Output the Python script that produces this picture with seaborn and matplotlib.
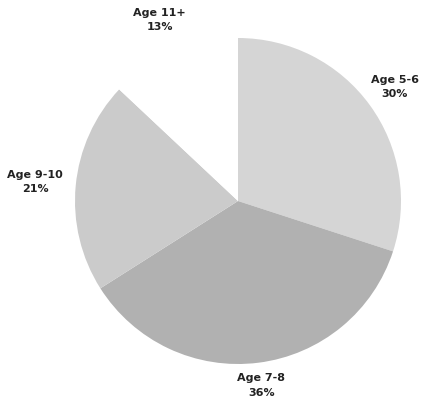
import numpy as np
import matplotlib
matplotlib.use("Agg")
import matplotlib.pyplot as plt
import seaborn as sns

# Age groups and their shares (percent), clockwise from 12 o'clock
groups = ["Age 5-6", "Age 7-8", "Age 9-10", "Age 11+"]
shares = [30, 36, 21, 13]
slice_colors = ["#d5d5d5", "#b1b1b1", "#cbcbcb", "#ffffff"]
label_dist = [1.19, 1.14, 1.25, 1.21]

sns.set_theme(style="white")
plt.rcParams["font.family"] = ["DejaVu Sans"]

W, H, DPI = 422, 404, 100
fig = plt.figure(figsize=(W / DPI, H / DPI), dpi=DPI)
fig.patch.set_facecolor("white")

cx, cy, r = 238, 201, 163
ax = fig.add_axes([(cx - r) / W, (H - cy - r) / H, 2 * r / W, 2 * r / H])

palette = sns.color_palette(slice_colors)
wedges, _ = ax.pie(shares, colors=palette, startangle=90, counterclock=False,
                   radius=1.0, wedgeprops=dict(linewidth=0))
ax.set_xlim(-1, 1)
ax.set_ylim(-1, 1)
ax.axis("off")

for w, g, s, d in zip(wedges, groups, shares, label_dist):
    mid = np.deg2rad((w.theta1 + w.theta2) / 2)
    x, y = d * np.cos(mid), d * np.sin(mid)
    ax.text(x, y, f"{g}\n{s}%", ha="center", va="center", fontsize=8,
            fontweight="bold", color="#222222", linespacing=1.55, clip_on=False)

fig.savefig("out.png", dpi=DPI, facecolor="white")
